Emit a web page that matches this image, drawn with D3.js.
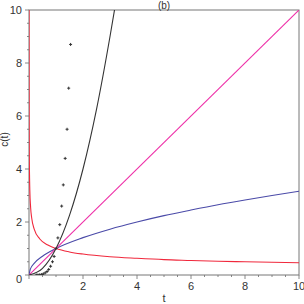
<!DOCTYPE html>
<html>
<head>
<meta charset="utf-8">
<script src="https://cdn.jsdelivr.net/npm/d3@7"></script>
<style>
  body { margin: 0; background: #fff; }
  text { font-family: "Liberation Sans", Arial, sans-serif; fill: #333; }
</style>
</head>
<body>
<div id="chart"></div>
<script>
// Values
var xTicks = [2, 4, 6, 8, 10];
var yTicks = [0, 2, 4, 6, 8, 10];

var lineT = [0, 10];
var lineC = [0, 10];

var sqrtT = [0, 0.05, 0.2, 0.5, 1, 2, 3, 4, 5, 6, 7, 8, 9, 10];
var sqrtC = [0, 0.22, 0.45, 0.71, 1, 1.41, 1.73, 2, 2.24, 2.45, 2.65, 2.83, 3, 3.16];

var redT = [0.001, 0.005, 0.01, 0.03, 0.06, 0.1, 0.2, 0.4, 0.7, 1, 1.5, 2, 3, 4, 5, 6, 7, 8, 9, 10];
var redC = [10, 5.85, 4.64, 3.22, 2.55, 2.15, 1.71, 1.36, 1.13, 1, 0.87, 0.79, 0.69, 0.63, 0.58, 0.55, 0.52, 0.5, 0.48, 0.46];

var blackT = [0, 0.5, 1, 1.5, 2, 2.5, 3, 3.2];
var blackC = [0, 0.25, 1, 2.25, 4, 6.25, 9, 10.2];

var dotT = [0.27, 0.33, 0.4, 0.47, 0.53, 0.6, 0.67, 0.73, 0.8, 0.87, 0.93, 1, 1.07, 1.14, 1.21, 1.27, 1.34, 1.41, 1.47, 1.54];
var dotC = [0, 0, 0.01, 0.02, 0.04, 0.08, 0.13, 0.21, 0.33, 0.5, 0.7, 1, 1.4, 1.9, 2.6, 3.4, 4.4, 5.5, 7.05, 8.7];

// Vars for sizing
var margin = {top: 10, right: 5, bottom: 29, left: 29};
var width = 304 - margin.left - margin.right;
var height = 304 - margin.top - margin.bottom;

var svg = d3.select("#chart")
    .append("svg")
    .attr("width", 304)
    .attr("height", 304)
    .append("g")
    .attr("transform", "translate(" + margin.left + "," + margin.top + ")");

var x = d3.scaleLinear().domain([0, 10]).range([0, width]);
var y = d3.scaleLinear().domain([0, 10]).range([height, 0]);

svg.append("clipPath").attr("id", "clip")
    .append("rect").attr("width", width).attr("height", height);

// Minor ticks every 0.5
var minor = d3.range(0, 10.01, 0.5);
svg.selectAll(".xminor").data(minor).enter().append("line")
    .attr("x1", function(d) { return x(d); })
    .attr("x2", function(d) { return x(d); })
    .attr("y1", height).attr("y2", function(d) { return d % 2 === 0 ? height + 4 : height + 2; })
    .attr("stroke", "#888");
svg.selectAll(".yminor").data(minor).enter().append("line")
    .attr("y1", function(d) { return y(d); })
    .attr("y2", function(d) { return y(d); })
    .attr("x1", 0).attr("x2", function(d) { return d % 2 === 0 ? -4 : -2; })
    .attr("stroke", "#888");

// Frame
svg.append("rect")
    .attr("width", width).attr("height", height)
    .attr("fill", "none").attr("stroke", "#777");

// Tick labels
svg.selectAll(".xlab").data(xTicks).enter().append("text")
    .attr("x", function(d) { return x(d); })
    .attr("y", height + 15)
    .attr("text-anchor", "middle")
    .style("font-size", "11px")
    .text(function(d) { return d; });
svg.selectAll(".ylab").data(yTicks).enter().append("text")
    .attr("x", -7)
    .attr("y", function(d) { return d === 0 ? y(d) + 8 : y(d) + 4; })
    .attr("text-anchor", "end")
    .style("font-size", "11px")
    .text(function(d) { return d; });

// Axis titles
svg.append("text")
    .attr("x", width / 2).attr("y", height + 27)
    .attr("text-anchor", "middle")
    .style("font-size", "11px")
    .text("t");
svg.append("text")
    .attr("transform", "rotate(-90)")
    .attr("x", -height / 2 + 3).attr("y", -21)
    .attr("text-anchor", "middle")
    .style("font-size", "10px")
    .text("c(t)");
svg.append("text")
    .attr("x", width / 2).attr("y", -1.5)
    .attr("text-anchor", "middle")
    .style("font-size", "10px")
    .text("(b)");

// Curves
var plot = svg.append("g").attr("clip-path", "url(#clip)");
function curve(ts, cs, color) {
    var pts = ts.map(function(t, i) { return [t, cs[i]]; });
    plot.append("path")
        .datum(pts)
        .attr("fill", "none")
        .attr("stroke", color)
        .attr("stroke-width", 1.1)
        .attr("d", d3.line()
            .x(function(d) { return x(d[0]); })
            .y(function(d) { return y(d[1]); })
            .curve(d3.curveMonotoneX));
}
curve(redT, redC, "#f0283c");
curve(sqrtT, sqrtC, "#4a4aa8");
curve(lineT, lineC, "#ee30a8");
curve(blackT, blackC, "#333");

// Dots as small crosses
var dots = dotT.map(function(t, i) { return [t, dotC[i]]; });
plot.selectAll(".dot").data(dots).enter().append("path")
    .attr("d", function(d) {
        var px = x(d[0]), py = y(d[1]);
        return "M" + (px - 1.5) + "," + py + "H" + (px + 1.5) + "M" + px + "," + (py - 1.5) + "V" + (py + 1.5);
    })
    .attr("stroke", "#333")
    .attr("stroke-width", 1);
</script>
</body>
</html>
